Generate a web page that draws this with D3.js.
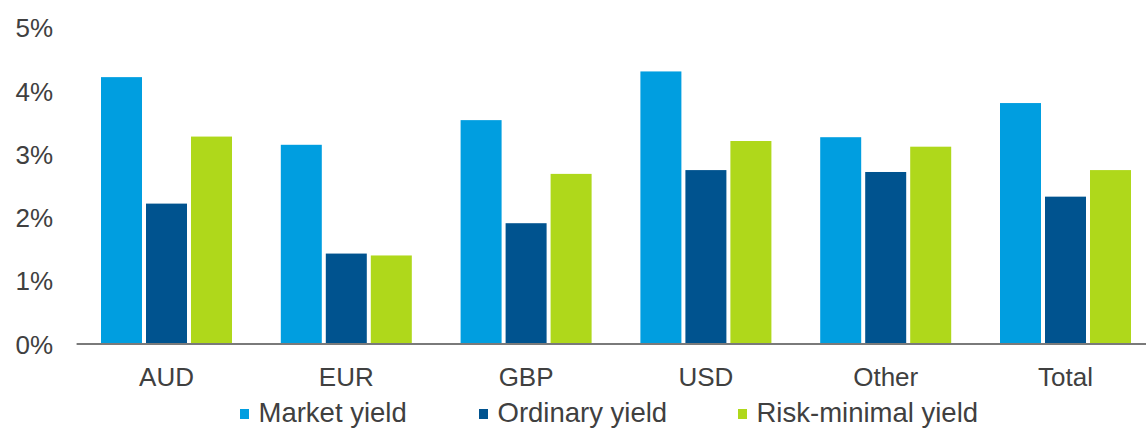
<!DOCTYPE html>
<html>
<head>
<meta charset="utf-8">
<script src="https://cdn.jsdelivr.net/npm/d3@7"></script>
<style>
  html, body { margin: 0; padding: 0; background: #ffffff; }
  svg { display: block; font-family: Arial, "Liberation Sans", sans-serif; }
</style>
</head>
<body>
<svg id="chart" width="1146" height="428"></svg>
<script>
// Yield by currency, in percent
const categories = ["AUD", "EUR", "GBP", "USD", "Other", "Total"];
const seriesNames = ["Market yield", "Ordinary yield", "Risk-minimal yield"];
const marketYield = [4.22, 3.15, 3.54, 4.31, 3.27, 3.81];
const ordinaryYield = [2.22, 1.43, 1.91, 2.75, 2.72, 2.33];
const riskMinimalYield = [3.28, 1.40, 2.69, 3.21, 3.12, 2.75];
const yTicks = [0, 1, 2, 3, 4, 5];
const colors = ["#009ee0", "#00538f", "#afd81b"];

const seriesValues = [marketYield, ordinaryYield, riskMinimalYield];
const rows = categories.map((c, i) => ({
  category: c,
  values: seriesNames.map((s, k) => ({ series: s, value: seriesValues[k][i] }))
}));

const svg = d3.select("#chart");
const textColor = "#404040";

const x0 = d3.scaleBand()
  .domain(categories)
  .range([76.6, 76.6 + 6 * 179.8])
  .paddingInner(0.2714)
  .paddingOuter(0.1357);

const x1 = d3.scaleBand()
  .domain(seriesNames)
  .range([0, x0.bandwidth()])
  .paddingInner(0.089)
  .paddingOuter(0);

const y = d3.scaleLinear().domain([0, 5]).range([344, 27.8]);

const color = d3.scaleOrdinal().domain(seriesNames).range(colors);

// Bars
const groups = svg.append("g")
  .selectAll("g")
  .data(rows)
  .join("g")
  .attr("transform", d => `translate(${x0(d.category)},0)`);

groups.selectAll("rect")
  .data(d => d.values)
  .join("rect")
  .attr("x", d => x1(d.series))
  .attr("y", d => y(d.value))
  .attr("width", x1.bandwidth())
  .attr("height", d => y(0) - y(d.value))
  .attr("fill", d => color(d.series));

// Y axis labels (no axis line)
const yAxis = svg.append("g")
  .attr("transform", "translate(53,0)")
  .call(d3.axisLeft(y).tickValues(yTicks).tickFormat(d => d + "%").tickSize(0).tickPadding(0));
yAxis.select(".domain").remove();
yAxis.selectAll("text")
  .attr("font-size", 26)
  .attr("font-family", "Arial, 'Liberation Sans', sans-serif")
  .attr("fill", textColor)
  .attr("dy", "0.35em");

// X axis baseline and category labels
const xAxis = svg.append("g")
  .attr("transform", `translate(0,${y(0)})`)
  .call(d3.axisBottom(x0).tickSize(0).tickPadding(0).tickSizeOuter(0));
xAxis.select(".domain")
  .attr("stroke", "#7a7a7a")
  .attr("stroke-width", 2)
  .attr("d", `M76.6,0H1146`);
xAxis.selectAll("text")
  .attr("font-size", 26)
  .attr("font-family", "Arial, 'Liberation Sans', sans-serif")
  .attr("fill", textColor)
  .attr("dy", null)
  .attr("y", 42);

// Legend
const legendX = [240, 479, 738];
const legend = svg.append("g")
  .selectAll("g")
  .data(seriesNames)
  .join("g")
  .attr("transform", (d, i) => `translate(${legendX[i]},0)`);

legend.append("rect")
  .attr("x", 0)
  .attr("y", 409)
  .attr("width", 9)
  .attr("height", 10)
  .attr("fill", d => color(d));

legend.append("text")
  .attr("x", 18.5)
  .attr("y", 422)
  .attr("font-size", 27.5)
  .attr("fill", textColor)
  .text(d => d);
</script>
</body>
</html>
